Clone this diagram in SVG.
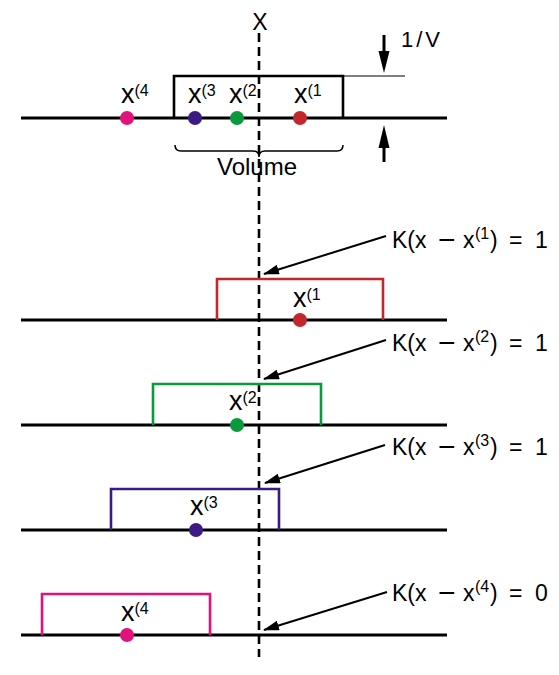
<svg xmlns="http://www.w3.org/2000/svg" width="559" height="675" viewBox="0 0 559 675">
<defs>
<style>
.axis{stroke:#000;stroke-width:3;fill:none}
.box{stroke-width:2.6;fill:none}
.lbl{font-family:"Liberation Sans",Arial,sans-serif;fill:#000}
.xm{font-size:27px}
.xs{font-size:16px}
.k{font-size:23px}
.ks{font-size:16px}
.mn{font-size:30px}
.conn{stroke:#000;stroke-width:2;fill:none}
</style>
<marker id="ah" markerWidth="16" markerHeight="10" refX="15" refY="5" orient="auto" markerUnits="userSpaceOnUse">
<path d="M0,0 L16,5 L0,10 z" fill="#000"/>
</marker>
</defs>
<rect width="559" height="675" fill="#fff"/>

<g id="top-panel">
<line class="axis" x1="21" y1="118" x2="447" y2="118"/>
<path class="box" stroke="#000" d="M174,118 V76 H343 V118"/>
<line x1="343" y1="76" x2="405" y2="76" stroke="#000" stroke-width="1"/>
<path d="M175,145 Q175,151 181,151 L253,151 Q259,151 259,157 Q259,151 265,151 L337,151 Q343,151 343,145" stroke="#000" stroke-width="1.5" fill="none"/>
<text class="lbl" x="217" y="175" font-size="24">Volume</text>
<text class="lbl" x="401" y="47" font-size="22" letter-spacing="3">1/V</text>
<line x1="384" y1="35" x2="384" y2="54" stroke="#000" stroke-width="3"/>
<polygon points="378.5,51 389.5,51 384,73" fill="#000"/>
<line x1="384" y1="145" x2="384" y2="162" stroke="#000" stroke-width="3"/>
<polygon points="384,125 378.5,148 389.5,148" fill="#000"/>
<circle cx="127" cy="118" r="7" fill="#e2127c"/>
<circle cx="195" cy="118" r="7" fill="#3b1a83"/>
<circle cx="237" cy="118" r="7" fill="#0a9a3e"/>
<circle cx="300" cy="118" r="7" fill="#c1272d"/>
<text class="lbl" x="121" y="103"><tspan class="xm">x</tspan><tspan class="xs" dy="-7">(4</tspan></text>
<text class="lbl" x="188" y="103"><tspan class="xm">x</tspan><tspan class="xs" dy="-7">(3</tspan></text>
<text class="lbl" x="229" y="103"><tspan class="xm">x</tspan><tspan class="xs" dy="-7">(2</tspan></text>
<text class="lbl" x="294" y="103"><tspan class="xm">x</tspan><tspan class="xs" dy="-7">(1</tspan></text>
</g>

<g id="dashed-x">
<line x1="259" y1="33" x2="259" y2="657" stroke="#000" stroke-width="2.6" stroke-dasharray="9 5"/>
<text class="lbl" x="260" y="30" font-size="23" text-anchor="middle">X</text>
</g>

<g id="kernel-1">
<line class="axis" x1="21" y1="320" x2="447" y2="320"/>
<path class="box" stroke="#c1272d" d="M217,320 V279 H383 V320"/>
<circle cx="300" cy="320" r="7" fill="#c1272d"/>
<text class="lbl" x="293" y="307"><tspan class="xm">x</tspan><tspan class="xs" dy="-7">(1</tspan></text>
<text class="lbl k" y="248"><tspan x="392">K(x</tspan><tspan class="mn" x="438" dy="2">−</tspan><tspan x="463" dy="-2">x</tspan><tspan class="ks" x="475" dy="-9">(1</tspan><tspan x="490" dy="9">)</tspan><tspan x="509">=</tspan><tspan x="535">1</tspan></text>
</g>

<g id="kernel-2">
<line class="axis" x1="21" y1="425" x2="447" y2="425"/>
<path class="box" stroke="#0a9a3e" d="M153,425 V384 H321 V425"/>
<circle cx="237" cy="425" r="7" fill="#0a9a3e"/>
<text class="lbl" x="229" y="410"><tspan class="xm">x</tspan><tspan class="xs" dy="-7">(2</tspan></text>
<text class="lbl k" y="351"><tspan x="392">K(x</tspan><tspan class="mn" x="438" dy="2">−</tspan><tspan x="463" dy="-2">x</tspan><tspan class="ks" x="475" dy="-9">(2</tspan><tspan x="490" dy="9">)</tspan><tspan x="509">=</tspan><tspan x="535">1</tspan></text>
</g>

<g id="kernel-3">
<line class="axis" x1="21" y1="530" x2="447" y2="530"/>
<path class="box" stroke="#3b1a83" d="M111,530 V489 H279 V530"/>
<circle cx="196" cy="530" r="7" fill="#3b1a83"/>
<text class="lbl" x="190" y="515"><tspan class="xm">x</tspan><tspan class="xs" dy="-7">(3</tspan></text>
<text class="lbl k" y="455"><tspan x="392">K(x</tspan><tspan class="mn" x="438" dy="2">−</tspan><tspan x="463" dy="-2">x</tspan><tspan class="ks" x="475" dy="-9">(3</tspan><tspan x="490" dy="9">)</tspan><tspan x="509">=</tspan><tspan x="535">1</tspan></text>
</g>

<g id="kernel-4">
<line class="axis" x1="21" y1="635" x2="447" y2="635"/>
<path class="box" stroke="#e2127c" d="M42,635 V594 H210 V635"/>
<circle cx="127" cy="635" r="7" fill="#e2127c"/>
<text class="lbl" x="121" y="621"><tspan class="xm">x</tspan><tspan class="xs" dy="-7">(4</tspan></text>
<text class="lbl k" y="601"><tspan x="392">K(x</tspan><tspan class="mn" x="438" dy="2">−</tspan><tspan x="463" dy="-2">x</tspan><tspan class="ks" x="475" dy="-9">(4</tspan><tspan x="490" dy="9">)</tspan><tspan x="509">=</tspan><tspan x="535">0</tspan></text>
</g>

<g id="connectors">
<line class="conn" x1="386" y1="236" x2="264" y2="274" marker-end="url(#ah)"/>
<line class="conn" x1="386" y1="340" x2="264" y2="379" marker-end="url(#ah)"/>
<line class="conn" x1="385" y1="445" x2="265" y2="483" marker-end="url(#ah)"/>
<line class="conn" x1="387" y1="592" x2="264" y2="630" marker-end="url(#ah)"/>
</g>
</svg>
